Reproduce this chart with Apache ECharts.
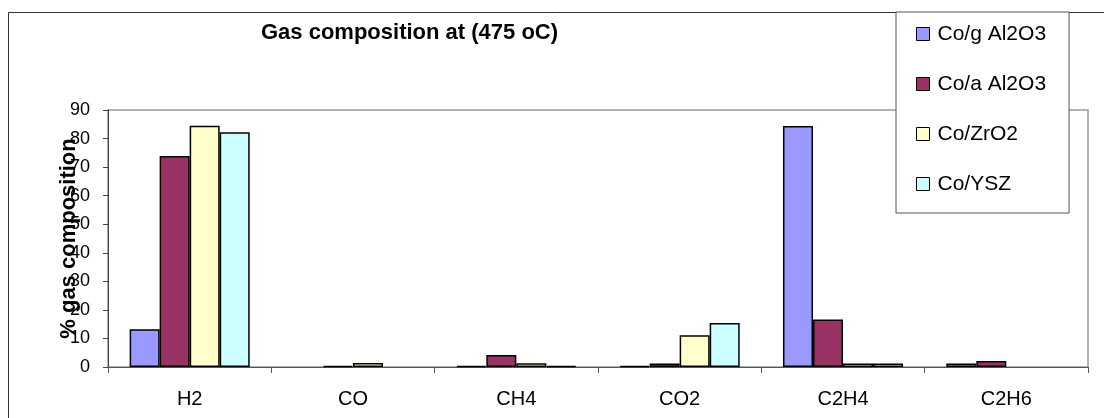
<!DOCTYPE html>
<html>
<head>
<meta charset="utf-8">
<style>
  html, body { margin: 0; padding: 0; background: #fff; }
  #chart { width: 1104px; height: 418px; }
</style>
<script src="https://cdn.jsdelivr.net/npm/echarts@6/dist/echarts.min.js"></script>
</head>
<body>
<div id="chart"></div>
<script>
// Gas species measured at 475 oC
const categories = ['H2', 'CO', 'CH4', 'CO2', 'C2H4', 'C2H6'];

// % gas composition per catalyst
const coGammaAl2O3 = [13.2, 0, 0.4, 0.4, 84.4, 1.2];
const coAlphaAl2O3 = [73.9, 0.4, 4.2, 1.2, 16.6, 2.1];
const coZrO2 = [84.5, 1.4, 1.3, 11.1, 1.2, 0];
const coYSZ = [82.2, 0, 0.4, 15.4, 1.2, 0];

const seriesNames = ['Co/g Al2O3', 'Co/a Al2O3', 'Co/ZrO2', 'Co/YSZ'];
const seriesData = [coGammaAl2O3, coAlphaAl2O3, coZrO2, coYSZ];
const seriesColors = ['#9999FF', '#993366', '#FFFFCC', '#CCFFFF'];

const yTicks = { min: 0, max: 90, interval: 10 };

const FONT = '"Liberation Sans", Arial, sans-serif';

// zero-height bars get no outline so they leave no mark on the baseline
const toBarData = values => values.map(v => (v === 0 ? { value: v, itemStyle: { borderWidth: 0 } } : v));

const chart = echarts.init(document.getElementById('chart'), null, { renderer: 'canvas' });

chart.setOption({
  animation: false,
  backgroundColor: '#fff',
  textStyle: { fontFamily: FONT, color: '#000' },
  title: {
    text: 'Gas composition at (475 oC)',
    left: 261,
    top: 22,
    padding: 0,
    textStyle: { fontFamily: FONT, fontSize: 22, fontWeight: 'bold', color: '#000' }
  },
  graphic: [{
    type: 'rect',
    silent: true,
    z: -10,
    shape: { x: 8.5, y: 12.5, width: 1200, height: 500 },
    style: { fill: 'none', stroke: '#333', lineWidth: 1 }
  }],
  grid: {
    left: 108,
    right: 16,
    top: 110,
    bottom: 51,
    show: true,
    borderColor: '#999',
    borderWidth: 1.5,
    backgroundColor: '#fff'
  },
  legend: {
    orient: 'vertical',
    left: 896,
    top: 12,
    padding: [10, 23, 17, 20],
    itemGap: 26,
    itemWidth: 13,
    itemHeight: 13,
    icon: 'rect',
    backgroundColor: '#fff',
    borderColor: '#555',
    borderWidth: 1,
    itemStyle: { borderColor: '#000', borderWidth: 1 },
    textStyle: { fontFamily: FONT, fontSize: 21, color: '#000', lineHeight: 24, padding: [0, 0, 0, 3] },
    data: seriesNames
  },
  xAxis: {
    type: 'category',
    data: categories,
    axisLine: { lineStyle: { color: '#555', width: 1 } },
    axisTick: { show: true, length: 6, interval: 0, lineStyle: { color: '#555' } },
    axisLabel: { fontFamily: FONT, fontSize: 20, color: '#000', margin: 22, interval: 0 },
    splitLine: { show: false }
  },
  yAxis: {
    type: 'value',
    min: yTicks.min,
    max: yTicks.max,
    interval: yTicks.interval,
    name: '% gas composition',
    nameLocation: 'middle',
    nameRotate: 90,
    nameGap: 28,
    nameMoveOverlap: false,
    nameTextStyle: { fontFamily: FONT, fontSize: 22, fontWeight: 'bold', color: '#000' },
    axisLine: { show: true, lineStyle: { color: '#444', width: 1 } },
    axisTick: { show: true, length: 5, lineStyle: { color: '#444' } },
    axisLabel: { fontFamily: FONT, fontSize: 18, color: '#000', margin: 18 },
    splitLine: { show: false }
  },
  series: seriesNames.map((name, i) => ({
    name,
    type: 'bar',
    data: toBarData(seriesData[i]),
    barGap: '0%',
    barCategoryGap: '26.5%',
    itemStyle: { color: seriesColors[i], borderColor: '#000', borderWidth: 1.5 }
  }))
});
</script>
</body>
</html>
